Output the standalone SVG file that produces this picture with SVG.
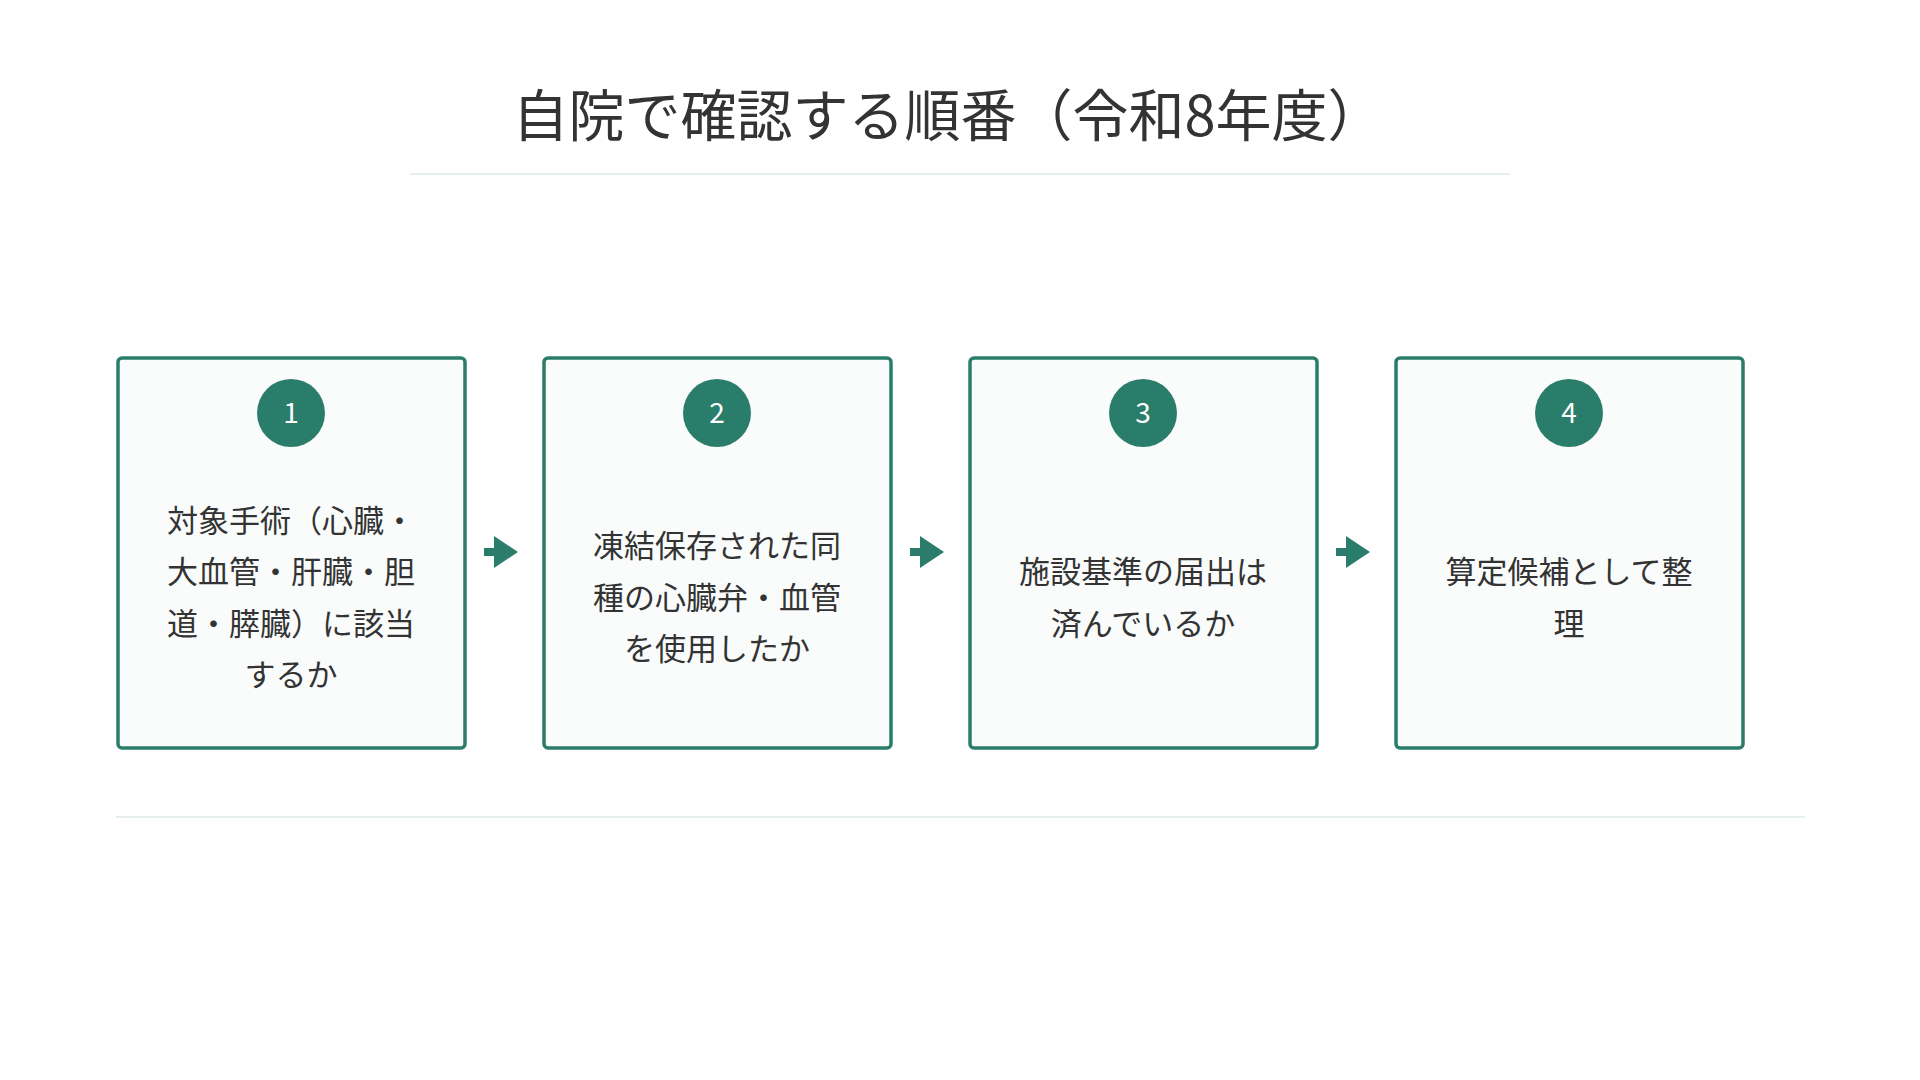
<svg xmlns="http://www.w3.org/2000/svg" width="1920" height="1080" viewBox="0 0 1920 1080">
<style>
.box{fill:#f9fcfb;stroke:#2a7d6b;stroke-width:3.5}
.num{fill:#2a7d6b}
.nt{font-family:"Noto Sans CJK JP","Noto Sans",sans-serif;font-size:28px;fill:#fff;text-anchor:middle}
.t{font-family:"Noto Sans CJK JP",sans-serif;font-size:31px;fill:#333;text-anchor:middle}
.arr{stroke:#2a7d6b;stroke-width:8;fill:none}
</style>
<defs><marker id="ah" markerWidth="4" markerHeight="4" refX="2" refY="2" orient="auto" markerUnits="strokeWidth"><path d="M0,0 L3,2 L0,4 Z" fill="#2a7d6b"/></marker></defs>
<rect width="1920" height="1080" fill="#fff"/>
<text x="948" y="136" font-family="Noto Sans CJK JP,sans-serif" font-size="56" fill="#333" text-anchor="middle">自院で確認する順番（令和8年度）</text>
<line x1="410" y1="174" x2="1510" y2="174" stroke="#e6efec" stroke-width="2"/>
<line x1="116" y1="817" x2="1805" y2="817" stroke="#e6efec" stroke-width="2"/>
<g id="n1"><rect class="box" x="118" y="358" width="347" height="390" rx="4"/><circle class="num" cx="291" cy="413" r="34"/><text class="nt" x="291" y="423">1</text>
<text class="t" x="291" y="532">対象手術（心臓・</text><text class="t" x="291" y="583">大血管・肝臓・胆</text><text class="t" x="291" y="635">道・膵臓）に該当</text><text class="t" x="291" y="686">するか</text></g>
<g id="n2"><rect class="box" x="544" y="358" width="347" height="390" rx="4"/><circle class="num" cx="717" cy="413" r="34"/><text class="nt" x="717" y="423">2</text>
<text class="t" x="717" y="557">凍結保存された同</text><text class="t" x="717" y="609">種の心臓弁・血管</text><text class="t" x="717" y="660">を使用したか</text></g>
<g id="n3"><rect class="box" x="970" y="358" width="347" height="390" rx="4"/><circle class="num" cx="1143" cy="413" r="34"/><text class="nt" x="1143" y="423">3</text>
<text class="t" x="1143" y="583">施設基準の届出は</text><text class="t" x="1143" y="635">済んでいるか</text></g>
<g id="n4"><rect class="box" x="1396" y="358" width="347" height="390" rx="4"/><circle class="num" cx="1569" cy="413" r="34"/><text class="nt" x="1569" y="423">4</text>
<text class="t" x="1569" y="583">算定候補として整</text><text class="t" x="1569" y="635">理</text></g>
<g id="connectors">
<line class="arr" x1="484" y1="552" x2="510" y2="552" marker-end="url(#ah)"/>
<line class="arr" x1="910" y1="552" x2="936" y2="552" marker-end="url(#ah)"/>
<line class="arr" x1="1336" y1="552" x2="1362" y2="552" marker-end="url(#ah)"/>
</g>
</svg>
